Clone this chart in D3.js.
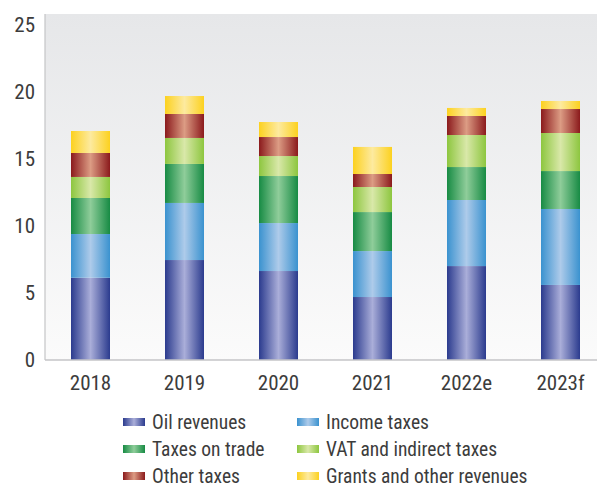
<!DOCTYPE html>
<html>
<head>
<meta charset="utf-8">
<script src="https://cdn.jsdelivr.net/npm/d3@7"></script>
<style>
  html, body { margin: 0; padding: 0; background: #fff; }
  svg { display: block; }
  text { font-family: "Liberation Sans Narrow", "Arial Narrow", "Roboto Condensed", "Liberation Sans", sans-serif; fill: #3c3c3c; }
</style>
</head>
<body>
<svg id="chart" width="597" height="487"></svg>
<script>
// Revenue composition by year (stacked)
const years = ["2018", "2019", "2020", "2021", "2022e", "2023f"];
const seriesNames = ["Oil revenues", "Income taxes", "Taxes on trade", "VAT and indirect taxes", "Other taxes", "Grants and other revenues"];
const oilRevenues   = [6.14, 7.46, 6.64, 4.70, 7.01, 5.60];
const incomeTaxes   = [3.26, 4.26, 3.58, 3.43, 4.93, 5.67];
const taxesOnTrade  = [2.69, 2.91, 3.51, 2.91, 2.46, 2.83];
const vatIndirect   = [1.57, 1.94, 1.49, 1.87, 2.39, 2.84];
const otherTaxes    = [1.79, 1.79, 1.42, 0.97, 1.42, 1.79];
const grantsOther   = [1.64, 1.34, 1.12, 2.02, 0.60, 0.60];
const yTicks = [0, 5, 10, 15, 20, 25];

const seriesValues = [oilRevenues, incomeTaxes, taxesOnTrade, vatIndirect, otherTaxes, grantsOther];
// edge / centre colours for the cylinder-like shading of each series
const edgeColors   = ["#2b3b8e", "#3a92cf", "#178b44", "#8dc63f", "#8b1a1c", "#fcd11f"];
const centreColors = ["#aaaed9", "#aecbea", "#8fcd9a", "#d9e8a9", "#dc9c84", "#fdea9f"];

const rows = years.map((y, i) => {
  const r = { year: y };
  seriesNames.forEach((s, k) => { r[s] = seriesValues[k][i]; });
  return r;
});
const stacked = d3.stack().keys(seriesNames)(rows);

const svg = d3.select("#chart");
const plotLeft = 45, plotTop = 14, plotRight = 597, plotBottom = 360;

const x = d3.scaleBand().domain(years).range([43.5, 607.5]).paddingInner(55 / 94).paddingOuter(55 / 188);
const y = d3.scaleLinear().domain([0, 25]).range([360, 25]);

const defs = svg.append("defs");
const bg = defs.append("linearGradient").attr("id", "bg").attr("x1", 0).attr("x2", 0).attr("y1", 0).attr("y2", 1);
bg.append("stop").attr("offset", "0%").attr("stop-color", "#e6e7e9");
bg.append("stop").attr("offset", "100%").attr("stop-color", "#fbfbfb");

seriesNames.forEach((s, k) => {
  const g = defs.append("linearGradient").attr("id", "g" + k).attr("x1", 0).attr("x2", 1).attr("y1", 0).attr("y2", 0);
  g.append("stop").attr("offset", "0%").attr("stop-color", edgeColors[k]);
  g.append("stop").attr("offset", "50%").attr("stop-color", centreColors[k]);
  g.append("stop").attr("offset", "100%").attr("stop-color", edgeColors[k]);
});

// plot background
svg.append("rect").attr("x", plotLeft).attr("y", plotTop)
  .attr("width", plotRight - plotLeft).attr("height", plotBottom - plotTop)
  .attr("fill", "url(#bg)");

// stacked bars
svg.append("g").selectAll("g").data(stacked).join("g")
  .attr("fill", (d, k) => `url(#g${k})`)
  .selectAll("rect").data(d => d).join("rect")
  .attr("x", d => x(d.data.year))
  .attr("width", x.bandwidth())
  .attr("y", d => y(d[1]))
  .attr("height", d => y(d[0]) - y(d[1]));

// axes
const yAxis = svg.append("g").attr("transform", `translate(${plotLeft},0)`)
  .call(d3.axisLeft(y).tickValues(yTicks).tickSize(0).tickPadding(10));
yAxis.select(".domain").remove();
yAxis.selectAll("text").attr("font-size", 21).style("fill", "#3c3c3c");

const xAxis = svg.append("g").attr("transform", `translate(0,${plotBottom})`)
  .call(d3.axisBottom(x).tickSize(0).tickPadding(15));
xAxis.select(".domain").remove();
xAxis.selectAll("text").attr("font-size", 21).style("fill", "#3c3c3c");

svg.append("line").attr("x1", plotLeft).attr("x2", plotLeft).attr("y1", plotTop).attr("y2", plotBottom)
  .attr("stroke", "#c4c5c7").attr("stroke-width", 1.2);
svg.append("line").attr("x1", plotLeft).attr("x2", plotRight).attr("y1", plotBottom).attr("y2", plotBottom)
  .attr("stroke", "#c4c5c7").attr("stroke-width", 1.5);

// legend: two columns, three rows
const legend = svg.append("g");
const legItems = legend.selectAll("g").data(seriesNames).join("g")
  .attr("transform", (d, k) => `translate(${k % 2 === 0 ? 123 : 297},${422 + Math.floor(k / 2) * 27})`);
legItems.append("rect").attr("x", 0).attr("y", -4).attr("width", 22).attr("height", 8)
  .attr("fill", (d, k) => `url(#g${k})`);
legItems.append("text").attr("x", 29).attr("y", 0).attr("dy", "0.35em")
  .attr("font-size", 19.5).text(d => d);
</script>
</body>
</html>
